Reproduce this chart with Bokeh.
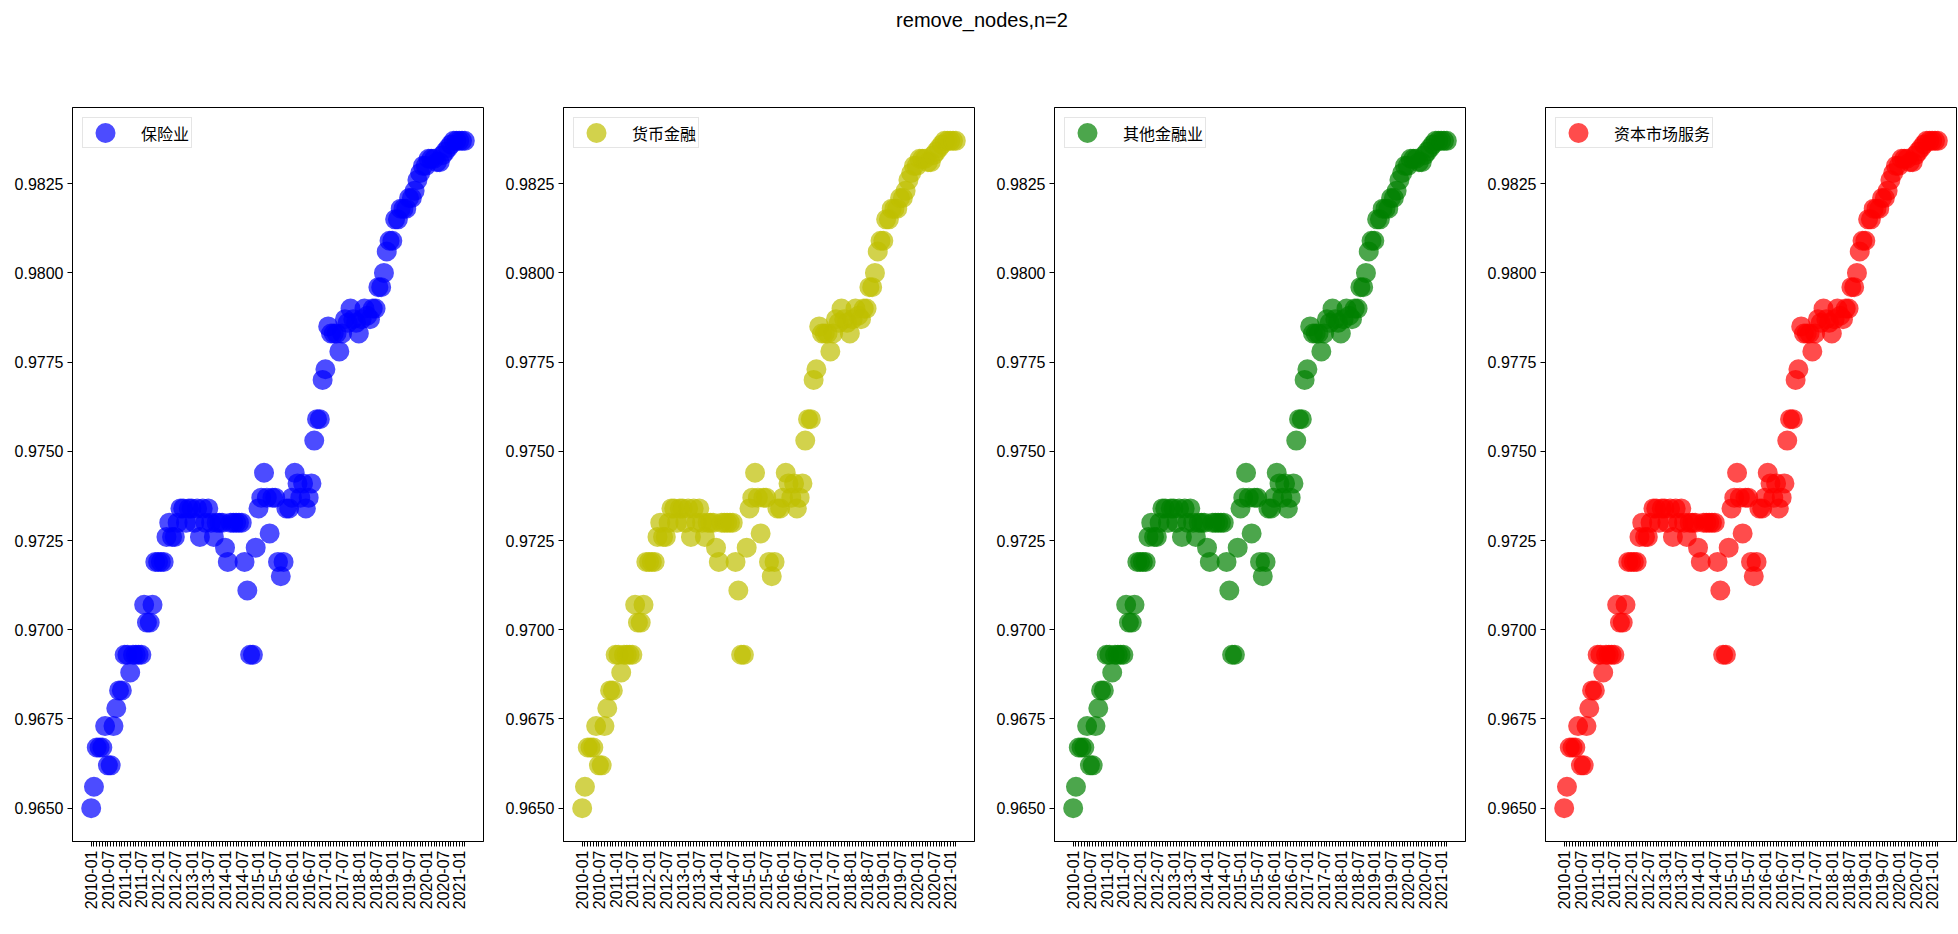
import math
from bokeh.plotting import figure
from bokeh.models import (Range1d, FixedTicker, PrintfTickFormatter, ColumnDataSource,
                          Div, Legend, LegendItem)
from bokeh.layouts import row, column
from bokeh.embed import file_html
from bokeh.resources import INLINE

# ---------------- data ----------------
title_text = "remove_nodes,n=2"

months = [f"{y}-{m:02d}" for y in range(2010, 2022) for m in range(1, 13)][:135]

values = [
    0.9650, 0.9656, 0.9667, 0.9667, 0.9667, 0.9673, 0.9662, 0.9662, 0.9673, 0.9678,
    0.9683, 0.9683, 0.9693, 0.9693, 0.9688, 0.9693, 0.9693, 0.9693, 0.9693, 0.9707,
    0.9702, 0.9702, 0.9707, 0.9719, 0.9719, 0.9719, 0.9719, 0.9726, 0.9730, 0.9726,
    0.9726, 0.9730, 0.9734, 0.9734, 0.9730, 0.9734, 0.9734, 0.9730, 0.9734, 0.9726,
    0.9734, 0.9730, 0.9734, 0.9730, 0.9726, 0.9730, 0.9730, 0.9730, 0.9723, 0.9719,
    0.9730, 0.9730, 0.9730, 0.9730, 0.9730, 0.9719, 0.9711, 0.9693, 0.9693, 0.9723,
    0.9734, 0.9737, 0.9744, 0.9737, 0.9727, 0.9737, 0.9737, 0.9719, 0.9715, 0.9719,
    0.9734, 0.9734, 0.9737, 0.9744, 0.9741, 0.9737, 0.9741, 0.9734, 0.9737, 0.9741,
    0.9753, 0.9759, 0.9759, 0.9770, 0.9773, 0.9785, 0.9783, 0.9783, 0.9783, 0.9778,
    0.9783, 0.9787, 0.9786, 0.9790, 0.9787, 0.9786, 0.9783, 0.9787, 0.9790, 0.9788,
    0.9787, 0.9790, 0.9790, 0.9796, 0.9796, 0.9800, 0.9806, 0.9809, 0.9809, 0.9815,
    0.9815, 0.9818, 0.9818, 0.9818, 0.9821, 0.9821, 0.9823, 0.9826, 0.9828, 0.9830,
    0.9830, 0.9832, 0.9832, 0.9832, 0.9831, 0.9831, 0.9833, 0.9834, 0.9835, 0.9836,
    0.9837, 0.9837, 0.9837, 0.9837, 0.9837,
]

series_names = ["保险业", "货币金融", "其他金融业", "资本市场服务"]
series_colors = ["#0000ff", "#bfbf00", "#008000", "#ff0000"]

y_ticks = [0.9650, 0.9675, 0.9700, 0.9725, 0.9750, 0.9775, 0.9800, 0.9825]
label_every = 6

# ---------------- helpers ----------------
x_idx = list(range(len(months)))
x_pad = 0.05 * (len(months) - 1)
y_pad = 0.05 * (max(values) - min(values))

LATIN = "Liberation Sans"
CJK = "Noto Sans CJK SC"


def make_panel(name, color, last):
    src = ColumnDataSource(dict(x=x_idx, y=values, month=months))
    p = figure(
        frame_width=411, frame_height=734,
        min_border_left=72, min_border_right=(2 if last else 8),
        min_border_top=59, min_border_bottom=80,
        x_range=Range1d(-x_pad, len(months) - 1 + x_pad),
        y_range=Range1d(min(values) - y_pad, max(values) + y_pad),
        output_backend="svg", toolbar_location=None, title=None,
        background_fill_color="white", border_fill_color="white",
    )
    r = p.scatter("x", "y", source=src, marker="circle", size=10,
                  fill_alpha=0, line_color=color, line_alpha=0.7, line_width=10)

    p.xgrid.visible = False
    p.ygrid.visible = False
    p.outline_line_color = "black"
    p.outline_line_width = 1
    p.outline_line_alpha = 1

    p.xaxis.ticker = FixedTicker(ticks=x_idx)
    p.xaxis.major_label_overrides = {i: (months[i] if i % label_every == 0 else "")
                                     for i in x_idx}
    p.xaxis.major_label_orientation = math.pi / 2
    p.yaxis.ticker = FixedTicker(ticks=y_ticks)
    p.yaxis.formatter = PrintfTickFormatter(format="%.4f")

    for ax in (p.xaxis[0], p.yaxis[0]):
        ax.major_label_text_font = LATIN
        ax.major_label_text_font_size = "16px"
        ax.major_label_text_color = "black"
        ax.major_tick_out = 5
        ax.major_tick_in = 0
        ax.major_tick_line_color = "black"
        ax.minor_tick_line_color = None
        ax.axis_line_color = "black"
        ax.major_label_standoff = 4

    legend = Legend(items=[LegendItem(label=name, renderers=[r])],
                    location="top_left", margin=10, padding=2, spacing=0,
                    glyph_width=40, glyph_height=25, label_standoff=16,
                    label_text_font=CJK, label_text_font_size="16px",
                    label_text_color="black",
                    border_line_color="#cccccc", border_line_width=1,
                    background_fill_color="white", background_fill_alpha=0.8)
    p.add_layout(legend)
    return p


panels = [make_panel(n, c, i == len(series_names) - 1)
          for i, (n, c) in enumerate(zip(series_names, series_colors))]

header = Div(
    text=(f'<div style="width:1958px;text-align:center;padding-top:8px;padding-left:6px;'
          f'font-family:\'{LATIN}\';font-size:20px;line-height:24px;color:#000;">'
          f'{title_text}</div>'),
    width=1958, height=48, margin=(0, 0, 0, 0),
)

layout = column(header, row(*panels, spacing=0), spacing=0)

open("out.html", "w").write(file_html(layout, INLINE))
